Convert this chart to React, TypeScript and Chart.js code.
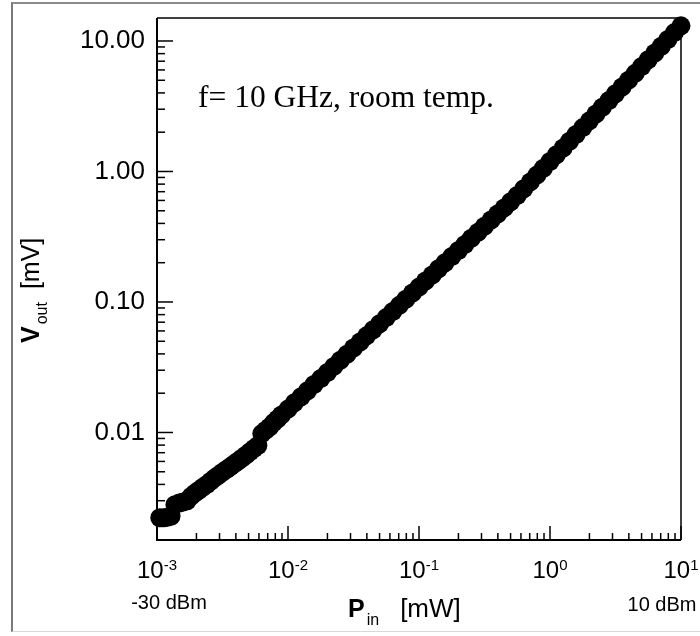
import React, { useEffect, useRef } from 'react';
import { Chart, registerables } from 'chart.js';

Chart.register(...registerables);

// ---- Data (P_in in mW, V_out in mV) ----
const pInMilliwatt = [
  0.00105, 0.00112, 0.0012, 0.00128, 0.00137,
  0.00148, 0.00158, 0.0017, 0.00182, 0.00195, 0.00209, 0.00224, 0.0024, 0.00257, 0.00275,
  0.00295, 0.00316, 0.00339, 0.00363, 0.00389, 0.00417, 0.00447, 0.00479, 0.00513, 0.0055, 0.00589,
  0.00631, 0.00676, 0.00724, 0.00776, 0.00832, 0.00891, 0.01,
  0.0112, 0.0126, 0.0141, 0.0158, 0.0178, 0.02, 0.0224, 0.0251, 0.0282, 0.0316,
  0.0355, 0.0398, 0.0447, 0.0501, 0.0562, 0.0631, 0.0708, 0.0794, 0.0891, 0.1,
  0.112, 0.126, 0.141, 0.158, 0.178, 0.2, 0.224, 0.251, 0.282, 0.316,
  0.355, 0.398, 0.447, 0.501, 0.562, 0.631, 0.708, 0.794, 0.891, 1.0,
  1.12, 1.26, 1.41, 1.58, 1.78, 2.0, 2.24, 2.51, 2.82, 3.16,
  3.55, 3.98, 4.47, 5.01, 5.62, 6.31, 7.08, 7.94, 8.91, 10.0,
];
const vOutMillivolt = [
  0.00222, 0.00222, 0.00224, 0.00228, 0.0028,
  0.00288, 0.00293, 0.003, 0.00324, 0.00343, 0.00361, 0.0038, 0.004, 0.00423, 0.00447,
  0.0047, 0.00495, 0.00521, 0.00547, 0.00575, 0.00605, 0.00637, 0.00673, 0.00711, 0.00755, 0.00794,
  0.0098, 0.0104, 0.011, 0.0119, 0.0127, 0.0136, 0.0151,
  0.0169, 0.0188, 0.0209, 0.0233, 0.0259, 0.0288, 0.0321, 0.0358, 0.0398, 0.0444,
  0.0494, 0.055, 0.0612, 0.0682, 0.0759, 0.0845, 0.0942, 0.105, 0.117, 0.13,
  0.145, 0.161, 0.18, 0.2, 0.223, 0.248, 0.276, 0.308, 0.342, 0.381,
  0.425, 0.472, 0.526, 0.586, 0.655, 0.738, 0.832, 0.938, 1.057, 1.191,
  1.343, 1.514, 1.706, 1.923, 2.168, 2.443, 2.754, 3.105, 3.499, 3.945,
  4.446, 5.012, 5.649, 6.368, 7.178, 8.091, 9.12, 10.28, 11.59, 13.06,
];

const xRange = [0.001, 10];
const yRange = [0.0015, 15];
const xDecades = [0.001, 0.01, 0.1, 1, 10];
const xExponentLabels = ['-3', '-2', '-1', '0', '1'];
const yDecades = [0.01, 0.1, 1, 10];
const yTickLabels = ['0.01', '0.10', '1.00', '10.00'];
const minorMultipliers = [2, 3, 4, 5, 6, 7, 8, 9];
const minorBaseDecades = [0.001, 0.01, 0.1, 1];
const dbmLabels = ['-30 dBm', '10 dBm'];
const annotationText = 'f= 10 GHz, room temp.';
const xTitleMain = 'P';
const xTitleSub = 'in';
const xTitleUnit = '[mW]';
const yTitleMain = 'V';
const yTitleSub = 'out';
const yTitleUnit = '[mV]';

const SANS = '"Liberation Sans", Arial, Helvetica, sans-serif';
const SERIF = '"Liberation Serif", "Times New Roman", Times, serif';

const decorPlugin = {
  id: 'decor',
  beforeDatasetsDraw(chart: any) {
    const { ctx, chartArea: a, scales } = chart;
    const x = scales.x;
    const y = scales.y;
    ctx.save();
    ctx.strokeStyle = '#000';
    ctx.lineCap = 'butt';
    // box
    ctx.lineWidth = 1.5;
    ctx.beginPath();
    ctx.moveTo(a.left, a.top);
    ctx.lineTo(a.right, a.top);
    ctx.lineTo(a.right, a.bottom);
    ctx.stroke();
    ctx.lineWidth = 2;
    ctx.beginPath();
    ctx.moveTo(a.left, a.top);
    ctx.lineTo(a.left, a.bottom);
    ctx.lineTo(a.right, a.bottom);
    ctx.stroke();

    ctx.lineWidth = 1.5;
    const xTick = (v: number, len: number) => {
      if (v < xRange[0] || v > xRange[1]) return;
      const px = x.getPixelForValue(v);
      ctx.beginPath();
      ctx.moveTo(px, a.bottom);
      ctx.lineTo(px, a.bottom - len);
      ctx.stroke();
    };
    const yTick = (v: number, len: number) => {
      if (v < yRange[0] || v > yRange[1]) return;
      const py = y.getPixelForValue(v);
      ctx.beginPath();
      ctx.moveTo(a.left, py);
      ctx.lineTo(a.left + len, py);
      ctx.stroke();
    };
    minorBaseDecades.forEach((d) => minorMultipliers.forEach((m) => { xTick(d * m, 7); yTick(d * m, 8); }));
    xDecades.forEach((d) => xTick(d, 14));
    yDecades.forEach((d) => yTick(d, 16));
    ctx.restore();
  },
  afterDraw(chart: any) {
    const { ctx, chartArea: a, scales } = chart;
    const x = scales.x;
    ctx.save();
    ctx.fillStyle = '#000';
    ctx.textBaseline = 'alphabetic';
    ctx.textAlign = 'left';

    // x tick labels 10^n
    xDecades.forEach((d, i) => {
      const px = x.getPixelForValue(d);
      ctx.font = `24px ${SANS}`;
      const wBase = ctx.measureText('10').width;
      ctx.font = `15px ${SANS}`;
      const wExp = ctx.measureText(xExponentLabels[i]).width;
      const start = px - (wBase + wExp) / 2;
      ctx.font = `24px ${SANS}`;
      ctx.fillText('10', start, a.bottom + 38);
      ctx.font = `15px ${SANS}`;
      ctx.fillText(xExponentLabels[i], start + wBase, a.bottom + 30);
    });

    // dBm labels
    ctx.font = `20px ${SANS}`;
    ctx.textAlign = 'center';
    ctx.fillText(dbmLabels[0], x.getPixelForValue(xDecades[0]) + 12, a.bottom + 69);
    ctx.fillText(dbmLabels[1], x.getPixelForValue(xDecades[xDecades.length - 1]) - 19, a.bottom + 71);
    ctx.textAlign = 'left';

    // x title
    let cx = a.left + 191;
    const xb = a.bottom + 77;
    ctx.font = `bold 25px ${SANS}`;
    ctx.fillText(xTitleMain, cx, xb);
    cx += ctx.measureText(xTitleMain).width + 2;
    ctx.font = `16px ${SANS}`;
    ctx.fillText(xTitleSub, cx, xb + 8);
    cx += ctx.measureText(xTitleSub).width + 21;
    ctx.font = `26px ${SANS}`;
    ctx.fillText(xTitleUnit, cx, xb);

    // y title (rotated)
    ctx.save();
    ctx.translate(39, a.top + 325);
    ctx.rotate(-Math.PI / 2);
    let ly = 0;
    ctx.font = `bold 25px ${SANS}`;
    ctx.fillText(yTitleMain, ly, 0);
    ly += ctx.measureText(yTitleMain).width + 2;
    ctx.font = `16px ${SANS}`;
    ctx.fillText(yTitleSub, ly, 8);
    ly += ctx.measureText(yTitleSub).width + 13;
    ctx.font = `25px ${SANS}`;
    ctx.fillText(yTitleUnit, ly, 0);
    ctx.restore();

    // annotation
    ctx.font = `31.5px ${SERIF}`;
    ctx.fillText(annotationText, a.left + 41, a.top + 89);
    ctx.restore();
  },
};

export default function App() {
  const canvasRef = useRef<HTMLCanvasElement | null>(null);

  useEffect(() => {
    if (!canvasRef.current) return;
    const points = pInMilliwatt.map((p, i) => ({ x: p, y: vOutMillivolt[i] }));
    const chart = new Chart(canvasRef.current, {
      type: 'scatter',
      data: {
        datasets: [
          {
            label: 'Vout',
            data: points,
            pointRadius: 9.5,
            pointHoverRadius: 9.5,
            pointBackgroundColor: '#000',
            pointBorderWidth: 0,
            borderColor: '#000',
            backgroundColor: '#000',
            showLine: false,
            clip: false as any,
          },
        ],
      },
      options: {
        responsive: false,
        animation: false,
        events: [],
        layout: { padding: { top: 18, right: 19, left: 0, bottom: 0 } },
        plugins: {
          legend: { display: false },
          tooltip: { enabled: false },
          title: { display: false },
        },
        scales: {
          x: {
            type: 'logarithmic',
            min: xRange[0],
            max: xRange[1],
            grid: { display: false, drawTicks: false },
            border: { display: false },
            ticks: { display: false },
            afterFit: (s: any) => {
              s.height = 96;
              s.paddingLeft = 0;
              s.paddingRight = 0;
            },
          },
          y: {
            type: 'logarithmic',
            min: yRange[0],
            max: yRange[1],
            grid: { display: false, drawTicks: false },
            border: { display: false },
            afterBuildTicks: (s: any) => { s.ticks = yDecades.map((v) => ({ value: v })); },
            ticks: {
              autoSkip: false,
              padding: 12,
              color: '#000',
              font: { family: SANS, size: 26 },
              callback: (_v: any, i: number) => yTickLabels[i],
            },
            afterFit: (s: any) => {
              s.width = 157;
              s.paddingTop = 0;
              s.paddingBottom = 0;
            },
          },
        },
      },
      plugins: [decorPlugin],
    } as any);
    return () => chart.destroy();
  }, []);

  return (
    <div style={{ position: 'absolute', left: 0, top: 0, width: 700, height: 636, background: '#fff' }}>
      <div
        style={{
          position: 'absolute',
          left: 11,
          top: 2,
          width: 689,
          height: 630,
          borderLeft: '2px solid #7a7a7a',
          borderTop: '2px solid #8a8a8a',
          borderBottom: '1px solid #d8d8d8',
          boxSizing: 'border-box',
        }}
      />
      <canvas ref={canvasRef} width={700} height={636} style={{ position: 'absolute', left: 0, top: 0 }} />
    </div>
  );
}
